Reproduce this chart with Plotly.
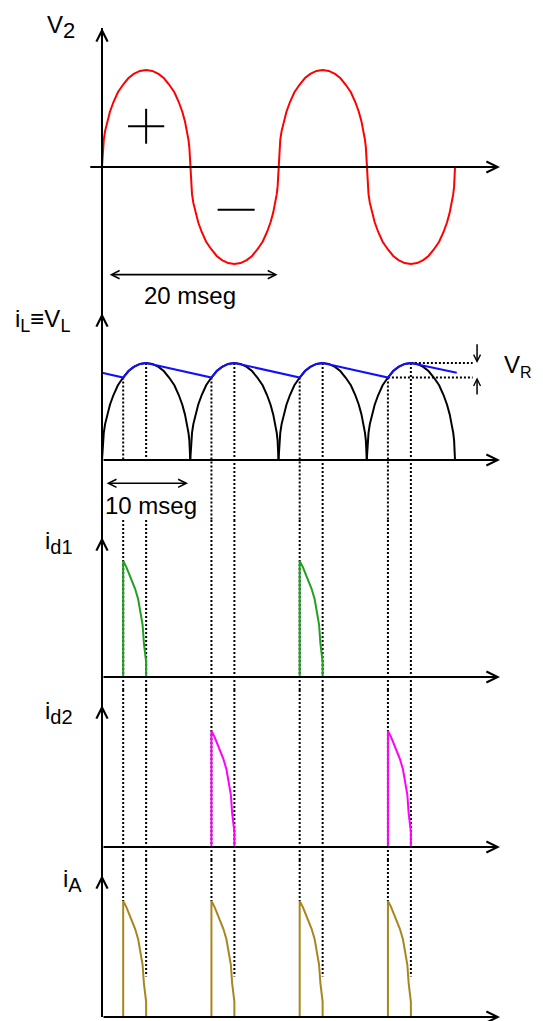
import plotly.graph_objects as go
from plotly.subplots import make_subplots

# one half-cycle of the transformer voltage, read off the first lobe
# (ms from the zero crossing, fraction of the peak)
lobe_t = [0, 0.1, 0.2, 0.35, 0.6, 0.9, 1.3, 1.8, 2.4, 3.0, 3.6, 4.3, 5.0,
          5.7, 6.4, 7.0, 7.6, 8.2, 8.7, 9.1, 9.4, 9.65, 9.8, 9.9, 10.0]
lobe_v = [0, 0.2, 0.28, 0.37, 0.47, 0.57, 0.67, 0.77, 0.85, 0.917, 0.96, 0.99, 1.0,
          0.99, 0.96, 0.917, 0.85, 0.77, 0.67, 0.57, 0.47, 0.37, 0.28, 0.2, 0]
half_start = [0, 10, 20, 30]
v2_sign = [1, -1, 1, -1]

# filtered load voltage (blue): charge along the lobe, linear discharge
vl_t = [0, 2.4, 3.0, 3.6, 4.3, 5.0,
        12.4, 13.0, 13.6, 14.3, 15.0,
        22.4, 23.0, 23.6, 24.3, 25.0,
        32.4, 33.0, 33.6, 34.3, 35.0, 40.2]
vl_v = [0.90, 0.85, 0.917, 0.96, 0.99, 1.0,
        0.85, 0.917, 0.96, 0.99, 1.0,
        0.85, 0.917, 0.96, 0.99, 1.0,
        0.85, 0.917, 0.96, 0.99, 1.0, 0.90]

# diode conduction: start / end of each pulse (ms) and pulse shape
cond_start = [2.4, 12.4, 22.4, 32.4]
cond_end = [5.0, 15.0, 25.0, 35.0]
pulse_dt = [0, 0.35, 0.65, 1.0, 1.35, 1.7, 2.0, 2.2, 2.35, 2.6]
pulse_i = [1.0, 0.95, 0.89, 0.83, 0.76, 0.67, 0.55, 0.45, 0.29, 0.13]
d1_pulses = [0, 2]
d2_pulses = [1, 3]
all_pulses = [0, 1, 2, 3]

vl_at_start = 0.85   # blue level where conduction starts
vl_at_end = 1.0      # peak
ia_dot_end = 0.35    # where the peak dotted line stops in the i_A panel
vr_line_end = 42.0

W, H = 543, 1021
PAGE = 8                      # browser body margin
FW, FH = W - PAGE, H - PAGE
X0_PX, PX_PER_MS = 102, 8.825
x_range = [-(X0_PX - PAGE) / PX_PER_MS, (W - X0_PX) / PX_PER_MS]
axis_tip = 45.1

# panel layout in page px: top, bottom, baseline, px per unit
panels = [(PAGE, 305, 167, 97), (305, 520, 460, 97), (520, 690, 677, 116),
          (690, 860, 847, 116), (860, H, 1017, 116)]
arrow_top_px = [28, 313, 537, 705, 875]

y_ranges = [[-(b - base) / s, (base - t) / s] for t, b, base, s in panels]
y_tops = [(base - a) / s for a, (t, b, base, s) in zip(arrow_top_px, panels)]


def refs(row):
    n = '' if row == 1 else str(row)
    return 'x' + n, 'y' + n


def pulses(idx):
    xs, ys = [], []
    for k in idx:
        s = cond_start[k]
        xs += [s] + [s + d for d in pulse_dt] + [cond_end[k], None]
        ys += [0] + pulse_i + [0, None]
    return xs, ys


fig = make_subplots(rows=5, cols=1, shared_xaxes=True, vertical_spacing=0,
                    row_heights=[b - t for t, b, _, _ in panels])

dot = dict(color='black', width=2, dash='2px,2px')

# dotted guide lines running down from the ripple waveform
# (the first pair breaks under the axis where the "10 mseg" mark sits)
times = cond_start + cond_end
tops = [vl_at_start] * 4 + [vl_at_end] * 4
bottoms = [pulse_i[0]] * 4 + [ia_dot_end] * 4
for row in range(2, 6):
    xs, ys = [], []
    lo, hi = y_ranges[row - 1]
    for t, top, bot in zip(times, tops, bottoms):
        y0 = top if row == 2 else hi
        y1 = bot if row == 5 else lo
        if row == 2 and t in (cond_start[0], cond_end[0]):
            y1 = 0
        xs += [t, t, None]
        ys += [y0, y1, None]
    if row == 2:
        xs += [cond_end[3], vr_line_end, None, cond_start[3], vr_line_end]
        ys += [vl_at_end, vl_at_end, None, vl_at_start, vl_at_start]
    fig.add_trace(go.Scatter(x=xs, y=ys, mode='lines', line=dot,
                             hoverinfo='skip'), row=row, col=1)

# V2
sx, sy = [], []
for h, sg in zip(half_start, v2_sign):
    sx += [h + t for t in lobe_t]
    sy += [sg * v for v in lobe_v]
fig.add_trace(go.Scatter(x=sx, y=sy, mode='lines',
                         line=dict(color='#ff0000', width=2)), row=1, col=1)

# rectified wave and filtered output
rx, ry = [], []
for h in half_start:
    rx += [h + t for t in lobe_t] + [None]
    ry += lobe_v + [None]
fig.add_trace(go.Scatter(x=rx, y=ry, mode='lines',
                         line=dict(color='black', width=2)), row=2, col=1)
fig.add_trace(go.Scatter(x=vl_t, y=vl_v, mode='lines',
                         line=dict(color='#1010ff', width=2)), row=2, col=1)

for row, idx, col in [(3, d1_pulses, '#22a022'), (4, d2_pulses, '#ff00ff'),
                      (5, all_pulses, '#a8861e')]:
    px, py = pulses(idx)
    fig.add_trace(go.Scatter(x=px, y=py, mode='lines',
                             line=dict(color=col, width=2)), row=row, col=1)

ann = []
arrow = dict(showarrow=True, arrowhead=5, arrowsize=1.1, arrowwidth=2,
             arrowcolor='black', text='')
for row in range(1, 6):
    xr, yr = refs(row)
    start = -1.5 if row == 1 else 0
    ann.append(dict(arrow, x=axis_tip, y=0, ax=start, ay=0, xref=xr, yref=yr,
                    axref=xr, ayref=yr))
    ann.append(dict(arrow, x=0, y=y_tops[row - 1], ax=0, ay=14,
                    xref=xr, yref=yr))

# time markers
ann.append(dict(arrow, x=19.9, y=-1.11, ax=0.7, ay=-1.11, xref='x', yref='y',
                axref='x', ayref='y', arrowside='end+start', arrowwidth=1.6,
                arrowsize=1))
ann.append(dict(arrow, x=9.75, y=-0.24, ax=0.35, ay=-0.24, xref='x2', yref='y2',
                axref='x2', ayref='y2', arrowside='end+start', arrowwidth=1.6,
                arrowsize=1))
# ripple arrows
ann.append(dict(arrow, x=42.5, y=vl_at_end, ax=42.5, ay=1.21, xref='x2',
                yref='y2', axref='x2', ayref='y2', arrowwidth=1.5, arrowsize=0.9))
ann.append(dict(arrow, x=42.5, y=vl_at_start, ax=42.5, ay=0.66, xref='x2',
                yref='y2', axref='x2', ayref='y2', arrowwidth=1.5, arrowsize=0.9))

font = dict(family='Liberation Sans', size=24, color='black')


def sub(s, size=20):
    return f"<sub><span style='font-size:{size}px'>{s}</span></sub>"


def label(text, x_px, y_px, xa='left', ya='top', size=24):
    return dict(text=text, x=(x_px - PAGE) / FW, y=1 - (y_px - PAGE) / FH,
                xref='paper', yref='paper', xanchor=xa, yanchor=ya,
                showarrow=False, font=dict(font, size=size), borderpad=0)


ann += [
    label('V' + sub('2', 22), 46, 10),
    label('i' + sub('L', 18) + '\u2261V' + sub('L', 18), 14, 304),
    label('V' + sub('R', 16), 533, 350, xa='right'),
    label('i' + sub('d1'), 44, 526),
    label('i' + sub('d2'), 44, 696),
    label('i' + sub('A'), 62, 864),
    label('20 mseg', 190, 295, xa='center', ya='middle', size=24),
    label('10 mseg', 104, 505, ya='middle', size=24),
]

shapes = [dict(type='line', xref='x', yref='paper', x0=0, x1=0,
               y0=1 - (1017 - PAGE) / FH, y1=1 - (arrow_top_px[0] - PAGE) / FH,
               line=dict(color='black', width=2))]
# + and - signs on the V2 half-cycles
for cx, cy, hw, hh in [(5.0, 0.42, 2.05, 0.18), (15.2, -0.44, 2.1, 0)]:
    shapes.append(dict(type='line', xref='x', yref='y', x0=cx - hw, x1=cx + hw,
                       y0=cy, y1=cy, line=dict(color='black', width=2)))
    if hh:
        shapes.append(dict(type='line', xref='x', yref='y', x0=cx, x1=cx,
                           y0=cy - hh, y1=cy + hh,
                           line=dict(color='black', width=2)))

fig.update_layout(width=FW, height=FH, margin=dict(l=0, r=0, t=0, b=0),
                  plot_bgcolor='white', paper_bgcolor='white',
                  showlegend=False, annotations=ann, shapes=shapes)
fig.update_xaxes(range=x_range, visible=False)
for row in range(1, 6):
    fig.update_yaxes(range=y_ranges[row - 1], visible=False, row=row, col=1)

fig.write_html("out.html")
